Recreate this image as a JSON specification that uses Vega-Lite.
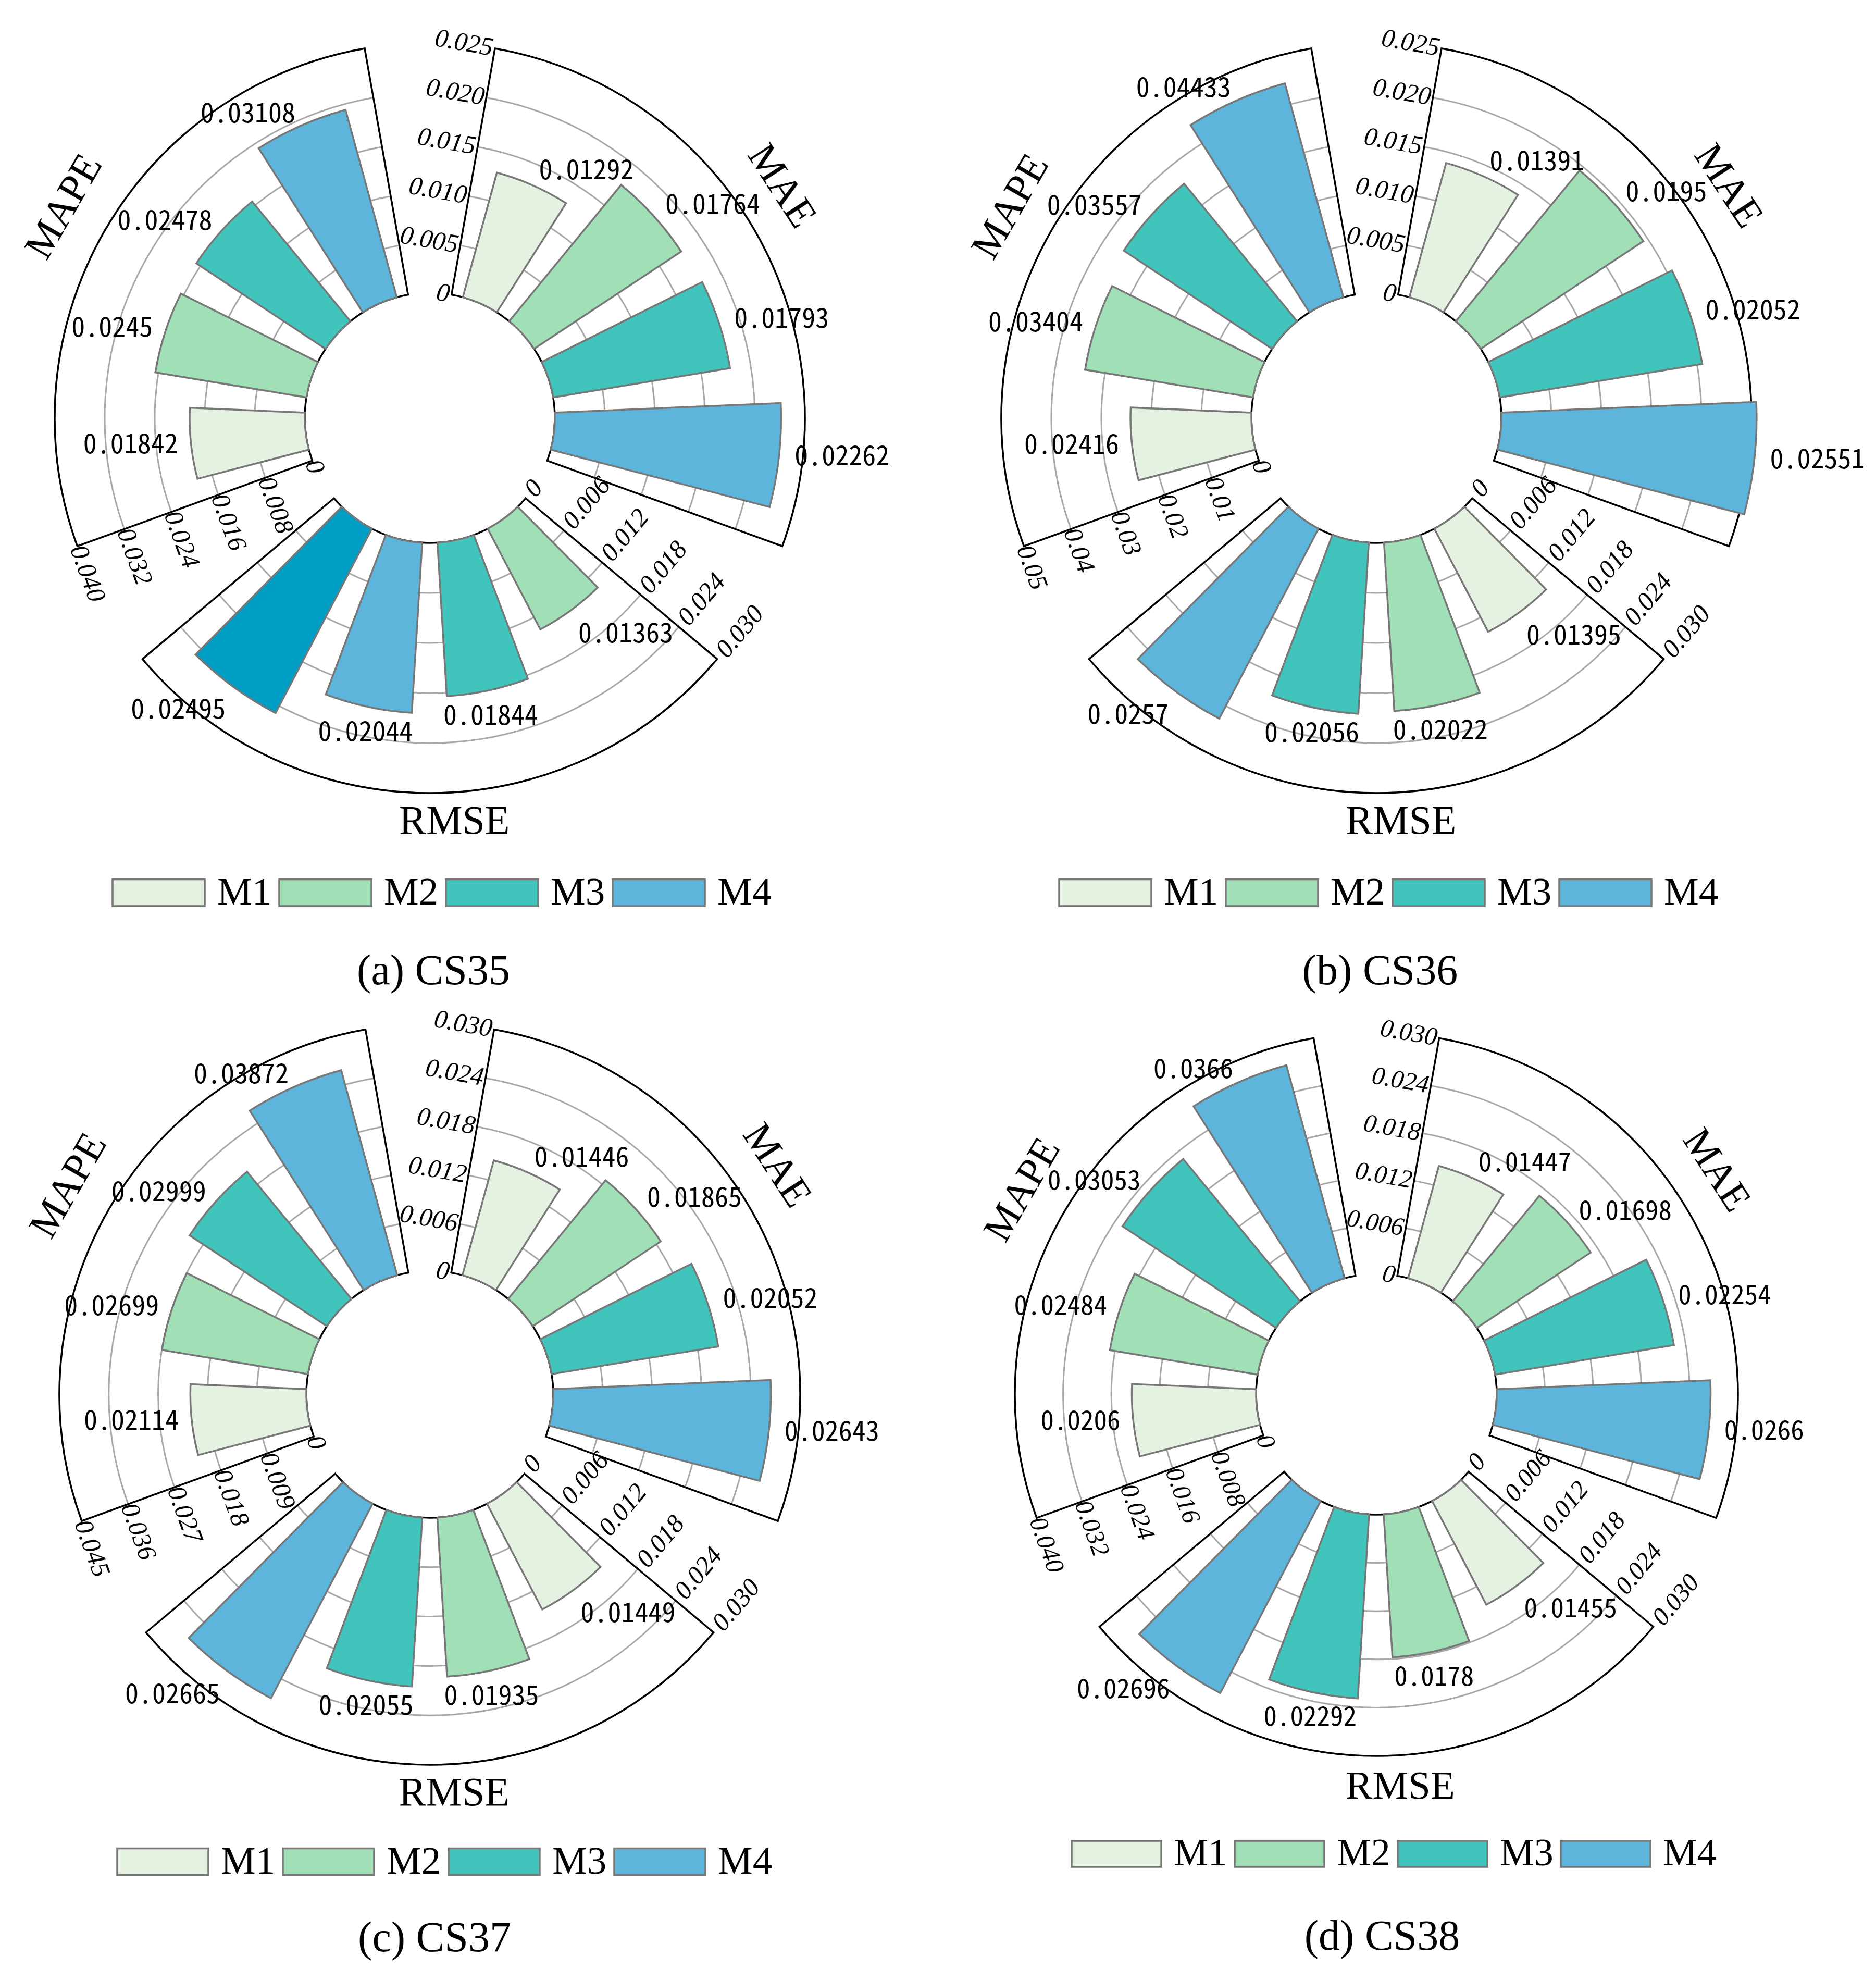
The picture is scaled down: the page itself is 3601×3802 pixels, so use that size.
{
  "$schema": "https://vega.github.io/schema/vega-lite/v6.json",
  "description": "Polar bar charts of MAE, RMSE and MAPE for four models on CS35-CS38.",
  "background": "white",
  "padding": {"left": 0, "top": 0, "right": 10, "bottom": 30},
  "autosize": {"type": "pad"},
  "bounds": "flush",
  "columns": 2,
  "spacing": {"row": 270, "column": 167},
  "config": {"view": {"stroke": null}, "font": "Liberation Serif"},
  "resolve": {"scale": {"color": "independent", "theta": "independent", "radius": "independent"}},
  "datasets": {
    "a": [
      {"metric": "MAE", "kind": "bar", "model": "M1", "value": 0.01292},
      {"metric": "MAE", "kind": "bar", "model": "M2", "value": 0.01764},
      {"metric": "MAE", "kind": "bar", "model": "M3", "value": 0.01793},
      {"metric": "MAE", "kind": "bar", "model": "M4", "value": 0.02262},
      {"metric": "RMSE", "kind": "bar", "model": "M2", "value": 0.01363},
      {"metric": "RMSE", "kind": "bar", "model": "M3", "value": 0.01844},
      {"metric": "RMSE", "kind": "bar", "model": "M4", "value": 0.02044},
      {"metric": "RMSE", "kind": "bar", "model": "M5", "value": 0.02495},
      {"metric": "MAPE", "kind": "bar", "model": "M1", "value": 0.01842},
      {"metric": "MAPE", "kind": "bar", "model": "M2", "value": 0.0245},
      {"metric": "MAPE", "kind": "bar", "model": "M3", "value": 0.02478},
      {"metric": "MAPE", "kind": "bar", "model": "M4", "value": 0.03108},
      {"metric": "MAE", "kind": "tick", "value": 0, "label": "0"},
      {"metric": "MAE", "kind": "tick", "value": 0.005, "label": "0.005"},
      {"metric": "MAE", "kind": "tick", "value": 0.01, "label": "0.010"},
      {"metric": "MAE", "kind": "tick", "value": 0.015, "label": "0.015"},
      {"metric": "MAE", "kind": "tick", "value": 0.02, "label": "0.020"},
      {"metric": "MAE", "kind": "tick", "value": 0.025, "label": "0.025"},
      {"metric": "RMSE", "kind": "tick", "value": 0, "label": "0"},
      {"metric": "RMSE", "kind": "tick", "value": 0.006, "label": "0.006"},
      {"metric": "RMSE", "kind": "tick", "value": 0.012, "label": "0.012"},
      {"metric": "RMSE", "kind": "tick", "value": 0.018, "label": "0.018"},
      {"metric": "RMSE", "kind": "tick", "value": 0.024, "label": "0.024"},
      {"metric": "RMSE", "kind": "tick", "value": 0.03, "label": "0.030"},
      {"metric": "MAPE", "kind": "tick", "value": 0, "label": "0"},
      {"metric": "MAPE", "kind": "tick", "value": 0.008, "label": "0.008"},
      {"metric": "MAPE", "kind": "tick", "value": 0.016, "label": "0.016"},
      {"metric": "MAPE", "kind": "tick", "value": 0.024, "label": "0.024"},
      {"metric": "MAPE", "kind": "tick", "value": 0.032, "label": "0.032"},
      {"metric": "MAPE", "kind": "tick", "value": 0.04, "label": "0.040"}
    ],
    "b": [
      {"metric": "MAE", "kind": "bar", "model": "M1", "value": 0.01391},
      {"metric": "MAE", "kind": "bar", "model": "M2", "value": 0.0195},
      {"metric": "MAE", "kind": "bar", "model": "M3", "value": 0.02052},
      {"metric": "MAE", "kind": "bar", "model": "M4", "value": 0.02551},
      {"metric": "RMSE", "kind": "bar", "model": "M1", "value": 0.01395},
      {"metric": "RMSE", "kind": "bar", "model": "M2", "value": 0.02022},
      {"metric": "RMSE", "kind": "bar", "model": "M3", "value": 0.02056},
      {"metric": "RMSE", "kind": "bar", "model": "M4", "value": 0.0257},
      {"metric": "MAPE", "kind": "bar", "model": "M1", "value": 0.02416},
      {"metric": "MAPE", "kind": "bar", "model": "M2", "value": 0.03404},
      {"metric": "MAPE", "kind": "bar", "model": "M3", "value": 0.03557},
      {"metric": "MAPE", "kind": "bar", "model": "M4", "value": 0.04433},
      {"metric": "MAE", "kind": "tick", "value": 0, "label": "0"},
      {"metric": "MAE", "kind": "tick", "value": 0.005, "label": "0.005"},
      {"metric": "MAE", "kind": "tick", "value": 0.01, "label": "0.010"},
      {"metric": "MAE", "kind": "tick", "value": 0.015, "label": "0.015"},
      {"metric": "MAE", "kind": "tick", "value": 0.02, "label": "0.020"},
      {"metric": "MAE", "kind": "tick", "value": 0.025, "label": "0.025"},
      {"metric": "RMSE", "kind": "tick", "value": 0, "label": "0"},
      {"metric": "RMSE", "kind": "tick", "value": 0.006, "label": "0.006"},
      {"metric": "RMSE", "kind": "tick", "value": 0.012, "label": "0.012"},
      {"metric": "RMSE", "kind": "tick", "value": 0.018, "label": "0.018"},
      {"metric": "RMSE", "kind": "tick", "value": 0.024, "label": "0.024"},
      {"metric": "RMSE", "kind": "tick", "value": 0.03, "label": "0.030"},
      {"metric": "MAPE", "kind": "tick", "value": 0, "label": "0"},
      {"metric": "MAPE", "kind": "tick", "value": 0.01, "label": "0.01"},
      {"metric": "MAPE", "kind": "tick", "value": 0.02, "label": "0.02"},
      {"metric": "MAPE", "kind": "tick", "value": 0.03, "label": "0.03"},
      {"metric": "MAPE", "kind": "tick", "value": 0.04, "label": "0.04"},
      {"metric": "MAPE", "kind": "tick", "value": 0.05, "label": "0.05"}
    ],
    "c": [
      {"metric": "MAE", "kind": "bar", "model": "M1", "value": 0.01446},
      {"metric": "MAE", "kind": "bar", "model": "M2", "value": 0.01865},
      {"metric": "MAE", "kind": "bar", "model": "M3", "value": 0.02052},
      {"metric": "MAE", "kind": "bar", "model": "M4", "value": 0.02643},
      {"metric": "RMSE", "kind": "bar", "model": "M1", "value": 0.01449},
      {"metric": "RMSE", "kind": "bar", "model": "M2", "value": 0.01935},
      {"metric": "RMSE", "kind": "bar", "model": "M3", "value": 0.02055},
      {"metric": "RMSE", "kind": "bar", "model": "M4", "value": 0.02665},
      {"metric": "MAPE", "kind": "bar", "model": "M1", "value": 0.02114},
      {"metric": "MAPE", "kind": "bar", "model": "M2", "value": 0.02699},
      {"metric": "MAPE", "kind": "bar", "model": "M3", "value": 0.02999},
      {"metric": "MAPE", "kind": "bar", "model": "M4", "value": 0.03872},
      {"metric": "MAE", "kind": "tick", "value": 0, "label": "0"},
      {"metric": "MAE", "kind": "tick", "value": 0.006, "label": "0.006"},
      {"metric": "MAE", "kind": "tick", "value": 0.012, "label": "0.012"},
      {"metric": "MAE", "kind": "tick", "value": 0.018, "label": "0.018"},
      {"metric": "MAE", "kind": "tick", "value": 0.024, "label": "0.024"},
      {"metric": "MAE", "kind": "tick", "value": 0.03, "label": "0.030"},
      {"metric": "RMSE", "kind": "tick", "value": 0, "label": "0"},
      {"metric": "RMSE", "kind": "tick", "value": 0.006, "label": "0.006"},
      {"metric": "RMSE", "kind": "tick", "value": 0.012, "label": "0.012"},
      {"metric": "RMSE", "kind": "tick", "value": 0.018, "label": "0.018"},
      {"metric": "RMSE", "kind": "tick", "value": 0.024, "label": "0.024"},
      {"metric": "RMSE", "kind": "tick", "value": 0.03, "label": "0.030"},
      {"metric": "MAPE", "kind": "tick", "value": 0, "label": "0"},
      {"metric": "MAPE", "kind": "tick", "value": 0.009, "label": "0.009"},
      {"metric": "MAPE", "kind": "tick", "value": 0.018, "label": "0.018"},
      {"metric": "MAPE", "kind": "tick", "value": 0.027, "label": "0.027"},
      {"metric": "MAPE", "kind": "tick", "value": 0.036, "label": "0.036"},
      {"metric": "MAPE", "kind": "tick", "value": 0.045, "label": "0.045"}
    ],
    "d": [
      {"metric": "MAE", "kind": "bar", "model": "M1", "value": 0.01447},
      {"metric": "MAE", "kind": "bar", "model": "M2", "value": 0.01698},
      {"metric": "MAE", "kind": "bar", "model": "M3", "value": 0.02254},
      {"metric": "MAE", "kind": "bar", "model": "M4", "value": 0.0266},
      {"metric": "RMSE", "kind": "bar", "model": "M1", "value": 0.01455},
      {"metric": "RMSE", "kind": "bar", "model": "M2", "value": 0.0178},
      {"metric": "RMSE", "kind": "bar", "model": "M3", "value": 0.02292},
      {"metric": "RMSE", "kind": "bar", "model": "M4", "value": 0.02696},
      {"metric": "MAPE", "kind": "bar", "model": "M1", "value": 0.0206},
      {"metric": "MAPE", "kind": "bar", "model": "M2", "value": 0.02484},
      {"metric": "MAPE", "kind": "bar", "model": "M3", "value": 0.03053},
      {"metric": "MAPE", "kind": "bar", "model": "M4", "value": 0.0366},
      {"metric": "MAE", "kind": "tick", "value": 0, "label": "0"},
      {"metric": "MAE", "kind": "tick", "value": 0.006, "label": "0.006"},
      {"metric": "MAE", "kind": "tick", "value": 0.012, "label": "0.012"},
      {"metric": "MAE", "kind": "tick", "value": 0.018, "label": "0.018"},
      {"metric": "MAE", "kind": "tick", "value": 0.024, "label": "0.024"},
      {"metric": "MAE", "kind": "tick", "value": 0.03, "label": "0.030"},
      {"metric": "RMSE", "kind": "tick", "value": 0, "label": "0"},
      {"metric": "RMSE", "kind": "tick", "value": 0.006, "label": "0.006"},
      {"metric": "RMSE", "kind": "tick", "value": 0.012, "label": "0.012"},
      {"metric": "RMSE", "kind": "tick", "value": 0.018, "label": "0.018"},
      {"metric": "RMSE", "kind": "tick", "value": 0.024, "label": "0.024"},
      {"metric": "RMSE", "kind": "tick", "value": 0.03, "label": "0.030"},
      {"metric": "MAPE", "kind": "tick", "value": 0, "label": "0"},
      {"metric": "MAPE", "kind": "tick", "value": 0.008, "label": "0.008"},
      {"metric": "MAPE", "kind": "tick", "value": 0.016, "label": "0.016"},
      {"metric": "MAPE", "kind": "tick", "value": 0.024, "label": "0.024"},
      {"metric": "MAPE", "kind": "tick", "value": 0.032, "label": "0.032"},
      {"metric": "MAPE", "kind": "tick", "value": 0.04, "label": "0.040"}
    ]
  },
  "concat": [
    {
      "width": 1650, "height": 1604,
      "data": {"name": "a"},
      "title": {"text": "(a) CS35", "orient": "bottom", "frame": "group", "anchor": "middle", "offset": 137, "dx": 7, "baseline": "alphabetic", "font": "Liberation Serif", "fontSize": 82, "fontWeight": "normal", "color": "black"},
      "resolve": {"scale": {"theta": "independent", "radius": "independent"}},
      "layer": [
        {
          "transform": [{"filter": "datum.metric == 'MAE'"}],
          "encoding": {"radius": {"field": "value", "type": "quantitative", "stack": null, "scale": {"type": "linear", "domain": [0, 0.025], "range": [240, 720], "nice": false, "zero": false}}},
          "resolve": {"scale": {"theta": "independent"}},
          "layer": [
            {"transform": [{"filter": "datum.kind == 'tick' && datum.value > 0"}], "mark": {"type": "arc", "filled": false, "stroke": "#a8a8a8", "strokeWidth": 3}, "encoding": {"theta": {"field": "metric", "type": "nominal", "scale": {"type": "band", "domain": ["MAE", "RMSE", "MAPE"], "range": [0, 6.283185], "paddingInner": 0.166667, "paddingOuter": 0.083333}}, "radius2": {"field": "value"}}},
            {"transform": [{"filter": "datum.kind == 'tick' && datum.value == 0.025"}], "mark": {"type": "arc", "filled": false, "stroke": "black", "strokeWidth": 3.5}, "encoding": {"theta": {"field": "metric", "type": "nominal", "scale": {"type": "band", "domain": ["MAE", "RMSE", "MAPE"], "range": [0, 6.283185], "paddingInner": 0.166667, "paddingOuter": 0.083333}}, "radius2": {"datum": 0}}},
            {"transform": [{"filter": "datum.kind == 'bar'"}], "mark": {"type": "arc", "stroke": "#777777", "strokeWidth": 3.5}, "encoding": {"theta": {"field": "model", "type": "nominal", "scale": {"type": "band", "domain": ["M1", "M2", "M3", "M4"], "range": [0.174533, 1.919862], "paddingInner": 0.29, "paddingOuter": 0.22}}, "color": {"field": "model", "type": "nominal", "scale": {"domain": ["M1", "M2", "M3", "M4", "M5"], "range": ["#e5f2e2", "#a1dfb6", "#40c4bc", "#5eb5dc", "#009dc4"]}, "legend": {"title": null, "orient": "none", "legendX": 214, "legendY": 1622.5, "direction": "horizontal", "columns": 4, "values": ["M1", "M2", "M3", "M4"], "symbolType": "M-1,-0.29H1V0.29H-1Z", "symbolSize": 31329, "symbolStrokeColor": "#777777", "symbolStrokeWidth": 3.5, "symbolOpacity": 1, "labelFont": "Liberation Serif", "labelFontSize": 75, "labelColor": "black", "labelOffset": 22, "columnPadding": 7, "padding": 0}}}},
            {"transform": [{"filter": "datum.kind == 'bar'"}], "mark": {"type": "text", "align": "left", "baseline": "middle", "radiusOffset": 30, "font": "Noto Sans Mono CJK SC, DejaVu Sans Mono", "fontSize": 52}, "encoding": {"theta": {"field": "model", "type": "nominal", "bandPosition": 0.5, "scale": {"type": "band", "domain": ["M1", "M2", "M3", "M4"], "range": [0.174533, 1.919862], "paddingInner": 0.29, "paddingOuter": 0.22}}, "text": {"field": "value", "type": "nominal"}}},
            {"transform": [{"filter": "datum.kind == 'tick'"}], "mark": {"type": "text", "align": "right", "baseline": "middle", "angle": 10, "dx": -4, "font": "Liberation Serif", "fontStyle": "italic", "fontSize": 50}, "encoding": {"theta": {"field": "metric", "type": "nominal", "bandPosition": 0, "scale": {"type": "band", "domain": ["MAE", "RMSE", "MAPE"], "range": [0, 6.283185], "paddingInner": 0.166667, "paddingOuter": 0.083333}}, "text": {"field": "label", "type": "nominal"}}},
            {"transform": [{"filter": "datum.kind == 'tick' && datum.value == 0.025"}], "mark": {"type": "text", "align": "center", "baseline": "middle", "angle": 57, "thetaOffset": -0.059, "radiusOffset": 88, "font": "Liberation Serif", "fontSize": 78}, "encoding": {"theta": {"field": "metric", "type": "nominal", "bandPosition": 0.5, "scale": {"type": "band", "domain": ["MAE", "RMSE", "MAPE"], "range": [0, 6.283185], "paddingInner": 0.166667, "paddingOuter": 0.083333}}, "text": {"field": "metric", "type": "nominal"}}}
          ]
        },
        {
          "transform": [{"filter": "datum.metric == 'RMSE'"}],
          "encoding": {"radius": {"field": "value", "type": "quantitative", "stack": null, "scale": {"type": "linear", "domain": [0, 0.03], "range": [240, 720], "nice": false, "zero": false}}},
          "resolve": {"scale": {"theta": "independent"}},
          "layer": [
            {"transform": [{"filter": "datum.kind == 'tick' && datum.value > 0"}], "mark": {"type": "arc", "filled": false, "stroke": "#a8a8a8", "strokeWidth": 3}, "encoding": {"theta": {"field": "metric", "type": "nominal", "scale": {"type": "band", "domain": ["MAE", "RMSE", "MAPE"], "range": [0, 6.283185], "paddingInner": 0.166667, "paddingOuter": 0.083333}}, "radius2": {"field": "value"}}},
            {"transform": [{"filter": "datum.kind == 'tick' && datum.value == 0.03"}], "mark": {"type": "arc", "filled": false, "stroke": "black", "strokeWidth": 3.5}, "encoding": {"theta": {"field": "metric", "type": "nominal", "scale": {"type": "band", "domain": ["MAE", "RMSE", "MAPE"], "range": [0, 6.283185], "paddingInner": 0.166667, "paddingOuter": 0.083333}}, "radius2": {"datum": 0}}},
            {"transform": [{"filter": "datum.kind == 'bar'"}], "mark": {"type": "arc", "stroke": "#777777", "strokeWidth": 3.5}, "encoding": {"theta": {"field": "model", "type": "nominal", "scale": {"type": "band", "domain": ["M2", "M3", "M4", "M5"], "range": [2.268928, 4.014257], "paddingInner": 0.29, "paddingOuter": 0.22}}, "color": {"field": "model", "type": "nominal", "scale": {"domain": ["M1", "M2", "M3", "M4", "M5"], "range": ["#e5f2e2", "#a1dfb6", "#40c4bc", "#5eb5dc", "#009dc4"]}}}},
            {"transform": [{"filter": "datum.kind == 'bar' && datum.model == 'M2'"}], "mark": {"type": "text", "align": "left", "baseline": "top", "radiusOffset": 25, "font": "Noto Sans Mono CJK SC, DejaVu Sans Mono", "fontSize": 52}, "encoding": {"theta": {"field": "model", "type": "nominal", "bandPosition": 0.5, "scale": {"type": "band", "domain": ["M2", "M3", "M4", "M5"], "range": [2.268928, 4.014257], "paddingInner": 0.29, "paddingOuter": 0.22}}, "text": {"field": "value", "type": "nominal"}}},
            {"transform": [{"filter": "datum.kind == 'bar' && (datum.model == 'M3' || datum.model == 'M4')"}], "mark": {"type": "text", "align": "center", "baseline": "top", "radiusOffset": 25, "font": "Noto Sans Mono CJK SC, DejaVu Sans Mono", "fontSize": 52}, "encoding": {"theta": {"field": "model", "type": "nominal", "bandPosition": 0.5, "scale": {"type": "band", "domain": ["M2", "M3", "M4", "M5"], "range": [2.268928, 4.014257], "paddingInner": 0.29, "paddingOuter": 0.22}}, "text": {"field": "value", "type": "nominal"}}},
            {"transform": [{"filter": "datum.kind == 'bar' && datum.model == 'M5'"}], "mark": {"type": "text", "align": "right", "baseline": "top", "radiusOffset": 25, "font": "Noto Sans Mono CJK SC, DejaVu Sans Mono", "fontSize": 52}, "encoding": {"theta": {"field": "model", "type": "nominal", "bandPosition": 0.5, "scale": {"type": "band", "domain": ["M2", "M3", "M4", "M5"], "range": [2.268928, 4.014257], "paddingInner": 0.29, "paddingOuter": 0.22}}, "text": {"field": "value", "type": "nominal"}}},
            {"transform": [{"filter": "datum.kind == 'tick'"}], "mark": {"type": "text", "align": "left", "baseline": "middle", "angle": -50, "dx": 12, "font": "Liberation Serif", "fontStyle": "italic", "fontSize": 50}, "encoding": {"theta": {"field": "metric", "type": "nominal", "bandPosition": 0, "scale": {"type": "band", "domain": ["MAE", "RMSE", "MAPE"], "range": [0, 6.283185], "paddingInner": 0.166667, "paddingOuter": 0.083333}}, "text": {"field": "label", "type": "nominal"}}},
            {"transform": [{"filter": "datum.kind == 'tick' && datum.value == 0.03"}], "mark": {"type": "text", "align": "center", "baseline": "middle", "angle": 0, "thetaOffset": -0.061, "radiusOffset": 56, "font": "Liberation Serif", "fontSize": 78}, "encoding": {"theta": {"field": "metric", "type": "nominal", "bandPosition": 0.5, "scale": {"type": "band", "domain": ["MAE", "RMSE", "MAPE"], "range": [0, 6.283185], "paddingInner": 0.166667, "paddingOuter": 0.083333}}, "text": {"field": "metric", "type": "nominal"}}}
          ]
        },
        {
          "transform": [{"filter": "datum.metric == 'MAPE'"}],
          "encoding": {"radius": {"field": "value", "type": "quantitative", "stack": null, "scale": {"type": "linear", "domain": [0, 0.04], "range": [240, 720], "nice": false, "zero": false}}},
          "resolve": {"scale": {"theta": "independent"}},
          "layer": [
            {"transform": [{"filter": "datum.kind == 'tick' && datum.value > 0"}], "mark": {"type": "arc", "filled": false, "stroke": "#a8a8a8", "strokeWidth": 3}, "encoding": {"theta": {"field": "metric", "type": "nominal", "scale": {"type": "band", "domain": ["MAE", "RMSE", "MAPE"], "range": [0, 6.283185], "paddingInner": 0.166667, "paddingOuter": 0.083333}}, "radius2": {"field": "value"}}},
            {"transform": [{"filter": "datum.kind == 'tick' && datum.value == 0.04"}], "mark": {"type": "arc", "filled": false, "stroke": "black", "strokeWidth": 3.5}, "encoding": {"theta": {"field": "metric", "type": "nominal", "scale": {"type": "band", "domain": ["MAE", "RMSE", "MAPE"], "range": [0, 6.283185], "paddingInner": 0.166667, "paddingOuter": 0.083333}}, "radius2": {"datum": 0}}},
            {"transform": [{"filter": "datum.kind == 'bar'"}], "mark": {"type": "arc", "stroke": "#777777", "strokeWidth": 3.5}, "encoding": {"theta": {"field": "model", "type": "nominal", "scale": {"type": "band", "domain": ["M1", "M2", "M3", "M4"], "range": [4.363323, 6.108652], "paddingInner": 0.29, "paddingOuter": 0.22}}, "color": {"field": "model", "type": "nominal", "scale": {"domain": ["M1", "M2", "M3", "M4", "M5"], "range": ["#e5f2e2", "#a1dfb6", "#40c4bc", "#5eb5dc", "#009dc4"]}}}},
            {"transform": [{"filter": "datum.kind == 'bar'"}], "mark": {"type": "text", "align": "right", "baseline": "middle", "radiusOffset": 25, "font": "Noto Sans Mono CJK SC, DejaVu Sans Mono", "fontSize": 52}, "encoding": {"theta": {"field": "model", "type": "nominal", "bandPosition": 0.5, "scale": {"type": "band", "domain": ["M1", "M2", "M3", "M4"], "range": [4.363323, 6.108652], "paddingInner": 0.29, "paddingOuter": 0.22}}, "text": {"field": "value", "type": "nominal"}}},
            {"transform": [{"filter": "datum.kind == 'tick'"}], "mark": {"type": "text", "align": "left", "baseline": "middle", "angle": 70, "dx": 0, "font": "Liberation Serif", "fontStyle": "italic", "fontSize": 50}, "encoding": {"theta": {"field": "metric", "type": "nominal", "bandPosition": 0, "scale": {"type": "band", "domain": ["MAE", "RMSE", "MAPE"], "range": [0, 6.283185], "paddingInner": 0.166667, "paddingOuter": 0.083333}}, "text": {"field": "label", "type": "nominal"}}},
            {"transform": [{"filter": "datum.kind == 'tick' && datum.value == 0.04"}], "mark": {"type": "text", "align": "center", "baseline": "middle", "angle": -60, "radiusOffset": 90, "font": "Liberation Serif", "fontSize": 78}, "encoding": {"theta": {"field": "metric", "type": "nominal", "bandPosition": 0.5, "scale": {"type": "band", "domain": ["MAE", "RMSE", "MAPE"], "range": [0, 6.283185], "paddingInner": 0.166667, "paddingOuter": 0.083333}}, "text": {"field": "metric", "type": "nominal"}}}
          ]
        }
      ]
    },
    {
      "width": 1650, "height": 1604,
      "data": {"name": "b"},
      "title": {"text": "(b) CS36", "orient": "bottom", "frame": "group", "anchor": "middle", "offset": 137, "dx": 7, "baseline": "alphabetic", "font": "Liberation Serif", "fontSize": 82, "fontWeight": "normal", "color": "black"},
      "resolve": {"scale": {"theta": "independent", "radius": "independent"}},
      "layer": [
        {
          "transform": [{"filter": "datum.metric == 'MAE'"}],
          "encoding": {"radius": {"field": "value", "type": "quantitative", "stack": null, "scale": {"type": "linear", "domain": [0, 0.025], "range": [240, 720], "nice": false, "zero": false}}},
          "resolve": {"scale": {"theta": "independent"}},
          "layer": [
            {"transform": [{"filter": "datum.kind == 'tick' && datum.value > 0"}], "mark": {"type": "arc", "filled": false, "stroke": "#a8a8a8", "strokeWidth": 3}, "encoding": {"theta": {"field": "metric", "type": "nominal", "scale": {"type": "band", "domain": ["MAE", "RMSE", "MAPE"], "range": [0, 6.283185], "paddingInner": 0.166667, "paddingOuter": 0.083333}}, "radius2": {"field": "value"}}},
            {"transform": [{"filter": "datum.kind == 'tick' && datum.value == 0.025"}], "mark": {"type": "arc", "filled": false, "stroke": "black", "strokeWidth": 3.5}, "encoding": {"theta": {"field": "metric", "type": "nominal", "scale": {"type": "band", "domain": ["MAE", "RMSE", "MAPE"], "range": [0, 6.283185], "paddingInner": 0.166667, "paddingOuter": 0.083333}}, "radius2": {"datum": 0}}},
            {"transform": [{"filter": "datum.kind == 'bar'"}], "mark": {"type": "arc", "stroke": "#777777", "strokeWidth": 3.5}, "encoding": {"theta": {"field": "model", "type": "nominal", "scale": {"type": "band", "domain": ["M1", "M2", "M3", "M4"], "range": [0.174533, 1.919862], "paddingInner": 0.29, "paddingOuter": 0.22}}, "color": {"field": "model", "type": "nominal", "scale": {"domain": ["M1", "M2", "M3", "M4"], "range": ["#e5f2e2", "#a1dfb6", "#40c4bc", "#5eb5dc"]}, "legend": {"title": null, "orient": "none", "legendX": 214, "legendY": 1622.5, "direction": "horizontal", "columns": 4, "symbolType": "M-1,-0.29H1V0.29H-1Z", "symbolSize": 31329, "symbolStrokeColor": "#777777", "symbolStrokeWidth": 3.5, "symbolOpacity": 1, "labelFont": "Liberation Serif", "labelFontSize": 75, "labelColor": "black", "labelOffset": 22, "columnPadding": 7, "padding": 0}}}},
            {"transform": [{"filter": "datum.kind == 'bar'"}], "mark": {"type": "text", "align": "left", "baseline": "middle", "radiusOffset": 30, "font": "Noto Sans Mono CJK SC, DejaVu Sans Mono", "fontSize": 52}, "encoding": {"theta": {"field": "model", "type": "nominal", "bandPosition": 0.5, "scale": {"type": "band", "domain": ["M1", "M2", "M3", "M4"], "range": [0.174533, 1.919862], "paddingInner": 0.29, "paddingOuter": 0.22}}, "text": {"field": "value", "type": "nominal"}}},
            {"transform": [{"filter": "datum.kind == 'tick'"}], "mark": {"type": "text", "align": "right", "baseline": "middle", "angle": 10, "dx": -4, "font": "Liberation Serif", "fontStyle": "italic", "fontSize": 50}, "encoding": {"theta": {"field": "metric", "type": "nominal", "bandPosition": 0, "scale": {"type": "band", "domain": ["MAE", "RMSE", "MAPE"], "range": [0, 6.283185], "paddingInner": 0.166667, "paddingOuter": 0.083333}}, "text": {"field": "label", "type": "nominal"}}},
            {"transform": [{"filter": "datum.kind == 'tick' && datum.value == 0.025"}], "mark": {"type": "text", "align": "center", "baseline": "middle", "angle": 57, "thetaOffset": -0.059, "radiusOffset": 88, "font": "Liberation Serif", "fontSize": 78}, "encoding": {"theta": {"field": "metric", "type": "nominal", "bandPosition": 0.5, "scale": {"type": "band", "domain": ["MAE", "RMSE", "MAPE"], "range": [0, 6.283185], "paddingInner": 0.166667, "paddingOuter": 0.083333}}, "text": {"field": "metric", "type": "nominal"}}}
          ]
        },
        {
          "transform": [{"filter": "datum.metric == 'RMSE'"}],
          "encoding": {"radius": {"field": "value", "type": "quantitative", "stack": null, "scale": {"type": "linear", "domain": [0, 0.03], "range": [240, 720], "nice": false, "zero": false}}},
          "resolve": {"scale": {"theta": "independent"}},
          "layer": [
            {"transform": [{"filter": "datum.kind == 'tick' && datum.value > 0"}], "mark": {"type": "arc", "filled": false, "stroke": "#a8a8a8", "strokeWidth": 3}, "encoding": {"theta": {"field": "metric", "type": "nominal", "scale": {"type": "band", "domain": ["MAE", "RMSE", "MAPE"], "range": [0, 6.283185], "paddingInner": 0.166667, "paddingOuter": 0.083333}}, "radius2": {"field": "value"}}},
            {"transform": [{"filter": "datum.kind == 'tick' && datum.value == 0.03"}], "mark": {"type": "arc", "filled": false, "stroke": "black", "strokeWidth": 3.5}, "encoding": {"theta": {"field": "metric", "type": "nominal", "scale": {"type": "band", "domain": ["MAE", "RMSE", "MAPE"], "range": [0, 6.283185], "paddingInner": 0.166667, "paddingOuter": 0.083333}}, "radius2": {"datum": 0}}},
            {"transform": [{"filter": "datum.kind == 'bar'"}], "mark": {"type": "arc", "stroke": "#777777", "strokeWidth": 3.5}, "encoding": {"theta": {"field": "model", "type": "nominal", "scale": {"type": "band", "domain": ["M1", "M2", "M3", "M4"], "range": [2.268928, 4.014257], "paddingInner": 0.29, "paddingOuter": 0.22}}, "color": {"field": "model", "type": "nominal", "scale": {"domain": ["M1", "M2", "M3", "M4"], "range": ["#e5f2e2", "#a1dfb6", "#40c4bc", "#5eb5dc"]}}}},
            {"transform": [{"filter": "datum.kind == 'bar' && datum.model == 'M1'"}], "mark": {"type": "text", "align": "left", "baseline": "top", "radiusOffset": 25, "font": "Noto Sans Mono CJK SC, DejaVu Sans Mono", "fontSize": 52}, "encoding": {"theta": {"field": "model", "type": "nominal", "bandPosition": 0.5, "scale": {"type": "band", "domain": ["M1", "M2", "M3", "M4"], "range": [2.268928, 4.014257], "paddingInner": 0.29, "paddingOuter": 0.22}}, "text": {"field": "value", "type": "nominal"}}},
            {"transform": [{"filter": "datum.kind == 'bar' && (datum.model == 'M2' || datum.model == 'M3')"}], "mark": {"type": "text", "align": "center", "baseline": "top", "radiusOffset": 25, "font": "Noto Sans Mono CJK SC, DejaVu Sans Mono", "fontSize": 52}, "encoding": {"theta": {"field": "model", "type": "nominal", "bandPosition": 0.5, "scale": {"type": "band", "domain": ["M1", "M2", "M3", "M4"], "range": [2.268928, 4.014257], "paddingInner": 0.29, "paddingOuter": 0.22}}, "text": {"field": "value", "type": "nominal"}}},
            {"transform": [{"filter": "datum.kind == 'bar' && datum.model == 'M4'"}], "mark": {"type": "text", "align": "right", "baseline": "top", "radiusOffset": 25, "font": "Noto Sans Mono CJK SC, DejaVu Sans Mono", "fontSize": 52}, "encoding": {"theta": {"field": "model", "type": "nominal", "bandPosition": 0.5, "scale": {"type": "band", "domain": ["M1", "M2", "M3", "M4"], "range": [2.268928, 4.014257], "paddingInner": 0.29, "paddingOuter": 0.22}}, "text": {"field": "value", "type": "nominal"}}},
            {"transform": [{"filter": "datum.kind == 'tick'"}], "mark": {"type": "text", "align": "left", "baseline": "middle", "angle": -50, "dx": 12, "font": "Liberation Serif", "fontStyle": "italic", "fontSize": 50}, "encoding": {"theta": {"field": "metric", "type": "nominal", "bandPosition": 0, "scale": {"type": "band", "domain": ["MAE", "RMSE", "MAPE"], "range": [0, 6.283185], "paddingInner": 0.166667, "paddingOuter": 0.083333}}, "text": {"field": "label", "type": "nominal"}}},
            {"transform": [{"filter": "datum.kind == 'tick' && datum.value == 0.03"}], "mark": {"type": "text", "align": "center", "baseline": "middle", "angle": 0, "thetaOffset": -0.061, "radiusOffset": 56, "font": "Liberation Serif", "fontSize": 78}, "encoding": {"theta": {"field": "metric", "type": "nominal", "bandPosition": 0.5, "scale": {"type": "band", "domain": ["MAE", "RMSE", "MAPE"], "range": [0, 6.283185], "paddingInner": 0.166667, "paddingOuter": 0.083333}}, "text": {"field": "metric", "type": "nominal"}}}
          ]
        },
        {
          "transform": [{"filter": "datum.metric == 'MAPE'"}],
          "encoding": {"radius": {"field": "value", "type": "quantitative", "stack": null, "scale": {"type": "linear", "domain": [0, 0.05], "range": [240, 720], "nice": false, "zero": false}}},
          "resolve": {"scale": {"theta": "independent"}},
          "layer": [
            {"transform": [{"filter": "datum.kind == 'tick' && datum.value > 0"}], "mark": {"type": "arc", "filled": false, "stroke": "#a8a8a8", "strokeWidth": 3}, "encoding": {"theta": {"field": "metric", "type": "nominal", "scale": {"type": "band", "domain": ["MAE", "RMSE", "MAPE"], "range": [0, 6.283185], "paddingInner": 0.166667, "paddingOuter": 0.083333}}, "radius2": {"field": "value"}}},
            {"transform": [{"filter": "datum.kind == 'tick' && datum.value == 0.05"}], "mark": {"type": "arc", "filled": false, "stroke": "black", "strokeWidth": 3.5}, "encoding": {"theta": {"field": "metric", "type": "nominal", "scale": {"type": "band", "domain": ["MAE", "RMSE", "MAPE"], "range": [0, 6.283185], "paddingInner": 0.166667, "paddingOuter": 0.083333}}, "radius2": {"datum": 0}}},
            {"transform": [{"filter": "datum.kind == 'bar'"}], "mark": {"type": "arc", "stroke": "#777777", "strokeWidth": 3.5}, "encoding": {"theta": {"field": "model", "type": "nominal", "scale": {"type": "band", "domain": ["M1", "M2", "M3", "M4"], "range": [4.363323, 6.108652], "paddingInner": 0.29, "paddingOuter": 0.22}}, "color": {"field": "model", "type": "nominal", "scale": {"domain": ["M1", "M2", "M3", "M4"], "range": ["#e5f2e2", "#a1dfb6", "#40c4bc", "#5eb5dc"]}}}},
            {"transform": [{"filter": "datum.kind == 'bar'"}], "mark": {"type": "text", "align": "right", "baseline": "middle", "radiusOffset": 25, "font": "Noto Sans Mono CJK SC, DejaVu Sans Mono", "fontSize": 52}, "encoding": {"theta": {"field": "model", "type": "nominal", "bandPosition": 0.5, "scale": {"type": "band", "domain": ["M1", "M2", "M3", "M4"], "range": [4.363323, 6.108652], "paddingInner": 0.29, "paddingOuter": 0.22}}, "text": {"field": "value", "type": "nominal"}}},
            {"transform": [{"filter": "datum.kind == 'tick'"}], "mark": {"type": "text", "align": "left", "baseline": "middle", "angle": 70, "dx": 0, "font": "Liberation Serif", "fontStyle": "italic", "fontSize": 50}, "encoding": {"theta": {"field": "metric", "type": "nominal", "bandPosition": 0, "scale": {"type": "band", "domain": ["MAE", "RMSE", "MAPE"], "range": [0, 6.283185], "paddingInner": 0.166667, "paddingOuter": 0.083333}}, "text": {"field": "label", "type": "nominal"}}},
            {"transform": [{"filter": "datum.kind == 'tick' && datum.value == 0.05"}], "mark": {"type": "text", "align": "center", "baseline": "middle", "angle": -60, "radiusOffset": 90, "font": "Liberation Serif", "fontSize": 78}, "encoding": {"theta": {"field": "metric", "type": "nominal", "bandPosition": 0.5, "scale": {"type": "band", "domain": ["MAE", "RMSE", "MAPE"], "range": [0, 6.283185], "paddingInner": 0.166667, "paddingOuter": 0.083333}}, "text": {"field": "metric", "type": "nominal"}}}
          ]
        }
      ]
    },
    {
      "width": 1650, "height": 1604,
      "data": {"name": "c"},
      "title": {"text": "(c) CS37", "orient": "bottom", "frame": "group", "anchor": "middle", "offset": 134, "dx": 9, "baseline": "alphabetic", "font": "Liberation Serif", "fontSize": 82, "fontWeight": "normal", "color": "black"},
      "resolve": {"scale": {"theta": "independent", "radius": "independent"}},
      "layer": [
        {
          "transform": [{"filter": "datum.metric == 'MAE'"}],
          "encoding": {"radius": {"field": "value", "type": "quantitative", "stack": null, "scale": {"type": "linear", "domain": [0, 0.03], "range": [237, 711], "nice": false, "zero": false}}},
          "resolve": {"scale": {"theta": "independent"}},
          "layer": [
            {"transform": [{"filter": "datum.kind == 'tick' && datum.value > 0"}], "mark": {"type": "arc", "filled": false, "stroke": "#a8a8a8", "strokeWidth": 3}, "encoding": {"theta": {"field": "metric", "type": "nominal", "scale": {"type": "band", "domain": ["MAE", "RMSE", "MAPE"], "range": [0, 6.283185], "paddingInner": 0.166667, "paddingOuter": 0.083333}}, "radius2": {"field": "value"}}},
            {"transform": [{"filter": "datum.kind == 'tick' && datum.value == 0.03"}], "mark": {"type": "arc", "filled": false, "stroke": "black", "strokeWidth": 3.5}, "encoding": {"theta": {"field": "metric", "type": "nominal", "scale": {"type": "band", "domain": ["MAE", "RMSE", "MAPE"], "range": [0, 6.283185], "paddingInner": 0.166667, "paddingOuter": 0.083333}}, "radius2": {"datum": 0}}},
            {"transform": [{"filter": "datum.kind == 'bar'"}], "mark": {"type": "arc", "stroke": "#777777", "strokeWidth": 3.5}, "encoding": {"theta": {"field": "model", "type": "nominal", "scale": {"type": "band", "domain": ["M1", "M2", "M3", "M4"], "range": [0.174533, 1.919862], "paddingInner": 0.29, "paddingOuter": 0.22}}, "color": {"field": "model", "type": "nominal", "scale": {"domain": ["M1", "M2", "M3", "M4"], "range": ["#e5f2e2", "#a1dfb6", "#40c4bc", "#5eb5dc"]}, "legend": {"title": null, "orient": "none", "legendX": 223, "legendY": 1609, "direction": "horizontal", "columns": 4, "symbolType": "M-1,-0.29H1V0.29H-1Z", "symbolSize": 30625, "symbolStrokeColor": "#777777", "symbolStrokeWidth": 3.5, "symbolOpacity": 1, "labelFont": "Liberation Serif", "labelFontSize": 75, "labelColor": "black", "labelOffset": 22, "columnPadding": 7, "padding": 0}}}},
            {"transform": [{"filter": "datum.kind == 'bar'"}], "mark": {"type": "text", "align": "left", "baseline": "middle", "radiusOffset": 30, "font": "Noto Sans Mono CJK SC, DejaVu Sans Mono", "fontSize": 52}, "encoding": {"theta": {"field": "model", "type": "nominal", "bandPosition": 0.5, "scale": {"type": "band", "domain": ["M1", "M2", "M3", "M4"], "range": [0.174533, 1.919862], "paddingInner": 0.29, "paddingOuter": 0.22}}, "text": {"field": "value", "type": "nominal"}}},
            {"transform": [{"filter": "datum.kind == 'tick'"}], "mark": {"type": "text", "align": "right", "baseline": "middle", "angle": 10, "dx": -4, "font": "Liberation Serif", "fontStyle": "italic", "fontSize": 50}, "encoding": {"theta": {"field": "metric", "type": "nominal", "bandPosition": 0, "scale": {"type": "band", "domain": ["MAE", "RMSE", "MAPE"], "range": [0, 6.283185], "paddingInner": 0.166667, "paddingOuter": 0.083333}}, "text": {"field": "label", "type": "nominal"}}},
            {"transform": [{"filter": "datum.kind == 'tick' && datum.value == 0.03"}], "mark": {"type": "text", "align": "center", "baseline": "middle", "angle": 57, "thetaOffset": -0.059, "radiusOffset": 86, "font": "Liberation Serif", "fontSize": 78}, "encoding": {"theta": {"field": "metric", "type": "nominal", "bandPosition": 0.5, "scale": {"type": "band", "domain": ["MAE", "RMSE", "MAPE"], "range": [0, 6.283185], "paddingInner": 0.166667, "paddingOuter": 0.083333}}, "text": {"field": "metric", "type": "nominal"}}}
          ]
        },
        {
          "transform": [{"filter": "datum.metric == 'RMSE'"}],
          "encoding": {"radius": {"field": "value", "type": "quantitative", "stack": null, "scale": {"type": "linear", "domain": [0, 0.03], "range": [237, 711], "nice": false, "zero": false}}},
          "resolve": {"scale": {"theta": "independent"}},
          "layer": [
            {"transform": [{"filter": "datum.kind == 'tick' && datum.value > 0"}], "mark": {"type": "arc", "filled": false, "stroke": "#a8a8a8", "strokeWidth": 3}, "encoding": {"theta": {"field": "metric", "type": "nominal", "scale": {"type": "band", "domain": ["MAE", "RMSE", "MAPE"], "range": [0, 6.283185], "paddingInner": 0.166667, "paddingOuter": 0.083333}}, "radius2": {"field": "value"}}},
            {"transform": [{"filter": "datum.kind == 'tick' && datum.value == 0.03"}], "mark": {"type": "arc", "filled": false, "stroke": "black", "strokeWidth": 3.5}, "encoding": {"theta": {"field": "metric", "type": "nominal", "scale": {"type": "band", "domain": ["MAE", "RMSE", "MAPE"], "range": [0, 6.283185], "paddingInner": 0.166667, "paddingOuter": 0.083333}}, "radius2": {"datum": 0}}},
            {"transform": [{"filter": "datum.kind == 'bar'"}], "mark": {"type": "arc", "stroke": "#777777", "strokeWidth": 3.5}, "encoding": {"theta": {"field": "model", "type": "nominal", "scale": {"type": "band", "domain": ["M1", "M2", "M3", "M4"], "range": [2.268928, 4.014257], "paddingInner": 0.29, "paddingOuter": 0.22}}, "color": {"field": "model", "type": "nominal", "scale": {"domain": ["M1", "M2", "M3", "M4"], "range": ["#e5f2e2", "#a1dfb6", "#40c4bc", "#5eb5dc"]}}}},
            {"transform": [{"filter": "datum.kind == 'bar' && datum.model == 'M1'"}], "mark": {"type": "text", "align": "left", "baseline": "top", "radiusOffset": 25, "font": "Noto Sans Mono CJK SC, DejaVu Sans Mono", "fontSize": 52}, "encoding": {"theta": {"field": "model", "type": "nominal", "bandPosition": 0.5, "scale": {"type": "band", "domain": ["M1", "M2", "M3", "M4"], "range": [2.268928, 4.014257], "paddingInner": 0.29, "paddingOuter": 0.22}}, "text": {"field": "value", "type": "nominal"}}},
            {"transform": [{"filter": "datum.kind == 'bar' && (datum.model == 'M2' || datum.model == 'M3')"}], "mark": {"type": "text", "align": "center", "baseline": "top", "radiusOffset": 25, "font": "Noto Sans Mono CJK SC, DejaVu Sans Mono", "fontSize": 52}, "encoding": {"theta": {"field": "model", "type": "nominal", "bandPosition": 0.5, "scale": {"type": "band", "domain": ["M1", "M2", "M3", "M4"], "range": [2.268928, 4.014257], "paddingInner": 0.29, "paddingOuter": 0.22}}, "text": {"field": "value", "type": "nominal"}}},
            {"transform": [{"filter": "datum.kind == 'bar' && datum.model == 'M4'"}], "mark": {"type": "text", "align": "right", "baseline": "top", "radiusOffset": 25, "font": "Noto Sans Mono CJK SC, DejaVu Sans Mono", "fontSize": 52}, "encoding": {"theta": {"field": "model", "type": "nominal", "bandPosition": 0.5, "scale": {"type": "band", "domain": ["M1", "M2", "M3", "M4"], "range": [2.268928, 4.014257], "paddingInner": 0.29, "paddingOuter": 0.22}}, "text": {"field": "value", "type": "nominal"}}},
            {"transform": [{"filter": "datum.kind == 'tick'"}], "mark": {"type": "text", "align": "left", "baseline": "middle", "angle": -50, "dx": 12, "font": "Liberation Serif", "fontStyle": "italic", "fontSize": 50}, "encoding": {"theta": {"field": "metric", "type": "nominal", "bandPosition": 0, "scale": {"type": "band", "domain": ["MAE", "RMSE", "MAPE"], "range": [0, 6.283185], "paddingInner": 0.166667, "paddingOuter": 0.083333}}, "text": {"field": "label", "type": "nominal"}}},
            {"transform": [{"filter": "datum.kind == 'tick' && datum.value == 0.03"}], "mark": {"type": "text", "align": "center", "baseline": "middle", "angle": 0, "thetaOffset": -0.061, "radiusOffset": 56, "font": "Liberation Serif", "fontSize": 78}, "encoding": {"theta": {"field": "metric", "type": "nominal", "bandPosition": 0.5, "scale": {"type": "band", "domain": ["MAE", "RMSE", "MAPE"], "range": [0, 6.283185], "paddingInner": 0.166667, "paddingOuter": 0.083333}}, "text": {"field": "metric", "type": "nominal"}}}
          ]
        },
        {
          "transform": [{"filter": "datum.metric == 'MAPE'"}],
          "encoding": {"radius": {"field": "value", "type": "quantitative", "stack": null, "scale": {"type": "linear", "domain": [0, 0.045], "range": [237, 711], "nice": false, "zero": false}}},
          "resolve": {"scale": {"theta": "independent"}},
          "layer": [
            {"transform": [{"filter": "datum.kind == 'tick' && datum.value > 0"}], "mark": {"type": "arc", "filled": false, "stroke": "#a8a8a8", "strokeWidth": 3}, "encoding": {"theta": {"field": "metric", "type": "nominal", "scale": {"type": "band", "domain": ["MAE", "RMSE", "MAPE"], "range": [0, 6.283185], "paddingInner": 0.166667, "paddingOuter": 0.083333}}, "radius2": {"field": "value"}}},
            {"transform": [{"filter": "datum.kind == 'tick' && datum.value == 0.045"}], "mark": {"type": "arc", "filled": false, "stroke": "black", "strokeWidth": 3.5}, "encoding": {"theta": {"field": "metric", "type": "nominal", "scale": {"type": "band", "domain": ["MAE", "RMSE", "MAPE"], "range": [0, 6.283185], "paddingInner": 0.166667, "paddingOuter": 0.083333}}, "radius2": {"datum": 0}}},
            {"transform": [{"filter": "datum.kind == 'bar'"}], "mark": {"type": "arc", "stroke": "#777777", "strokeWidth": 3.5}, "encoding": {"theta": {"field": "model", "type": "nominal", "scale": {"type": "band", "domain": ["M1", "M2", "M3", "M4"], "range": [4.363323, 6.108652], "paddingInner": 0.29, "paddingOuter": 0.22}}, "color": {"field": "model", "type": "nominal", "scale": {"domain": ["M1", "M2", "M3", "M4"], "range": ["#e5f2e2", "#a1dfb6", "#40c4bc", "#5eb5dc"]}}}},
            {"transform": [{"filter": "datum.kind == 'bar'"}], "mark": {"type": "text", "align": "right", "baseline": "middle", "radiusOffset": 25, "font": "Noto Sans Mono CJK SC, DejaVu Sans Mono", "fontSize": 52}, "encoding": {"theta": {"field": "model", "type": "nominal", "bandPosition": 0.5, "scale": {"type": "band", "domain": ["M1", "M2", "M3", "M4"], "range": [4.363323, 6.108652], "paddingInner": 0.29, "paddingOuter": 0.22}}, "text": {"field": "value", "type": "nominal"}}},
            {"transform": [{"filter": "datum.kind == 'tick'"}], "mark": {"type": "text", "align": "left", "baseline": "middle", "angle": 70, "dx": 0, "font": "Liberation Serif", "fontStyle": "italic", "fontSize": 50}, "encoding": {"theta": {"field": "metric", "type": "nominal", "bandPosition": 0, "scale": {"type": "band", "domain": ["MAE", "RMSE", "MAPE"], "range": [0, 6.283185], "paddingInner": 0.166667, "paddingOuter": 0.083333}}, "text": {"field": "label", "type": "nominal"}}},
            {"transform": [{"filter": "datum.kind == 'tick' && datum.value == 0.045"}], "mark": {"type": "text", "align": "center", "baseline": "middle", "angle": -60, "radiusOffset": 89, "font": "Liberation Serif", "fontSize": 78}, "encoding": {"theta": {"field": "metric", "type": "nominal", "bandPosition": 0.5, "scale": {"type": "band", "domain": ["MAE", "RMSE", "MAPE"], "range": [0, 6.283185], "paddingInner": 0.166667, "paddingOuter": 0.083333}}, "text": {"field": "metric", "type": "nominal"}}}
          ]
        }
      ]
    },
    {
      "width": 1650, "height": 1604,
      "data": {"name": "d"},
      "title": {"text": "(d) CS38", "orient": "bottom", "frame": "group", "anchor": "middle", "offset": 147, "dx": 11, "baseline": "alphabetic", "font": "Liberation Serif", "fontSize": 82, "fontWeight": "normal", "color": "black"},
      "resolve": {"scale": {"theta": "independent", "radius": "independent"}},
      "layer": [
        {
          "transform": [{"filter": "datum.metric == 'MAE'"}],
          "encoding": {"radius": {"field": "value", "type": "quantitative", "stack": null, "scale": {"type": "linear", "domain": [0, 0.03], "range": [231, 694], "nice": false, "zero": false}}},
          "resolve": {"scale": {"theta": "independent"}},
          "layer": [
            {"transform": [{"filter": "datum.kind == 'tick' && datum.value > 0"}], "mark": {"type": "arc", "filled": false, "stroke": "#a8a8a8", "strokeWidth": 3}, "encoding": {"theta": {"field": "metric", "type": "nominal", "scale": {"type": "band", "domain": ["MAE", "RMSE", "MAPE"], "range": [0, 6.283185], "paddingInner": 0.166667, "paddingOuter": 0.083333}}, "radius2": {"field": "value"}}},
            {"transform": [{"filter": "datum.kind == 'tick' && datum.value == 0.03"}], "mark": {"type": "arc", "filled": false, "stroke": "black", "strokeWidth": 3.5}, "encoding": {"theta": {"field": "metric", "type": "nominal", "scale": {"type": "band", "domain": ["MAE", "RMSE", "MAPE"], "range": [0, 6.283185], "paddingInner": 0.166667, "paddingOuter": 0.083333}}, "radius2": {"datum": 0}}},
            {"transform": [{"filter": "datum.kind == 'bar'"}], "mark": {"type": "arc", "stroke": "#777777", "strokeWidth": 3.5}, "encoding": {"theta": {"field": "model", "type": "nominal", "scale": {"type": "band", "domain": ["M1", "M2", "M3", "M4"], "range": [0.174533, 1.919862], "paddingInner": 0.29, "paddingOuter": 0.22}}, "color": {"field": "model", "type": "nominal", "scale": {"domain": ["M1", "M2", "M3", "M4"], "range": ["#e5f2e2", "#a1dfb6", "#40c4bc", "#5eb5dc"]}, "legend": {"title": null, "orient": "none", "legendX": 238, "legendY": 1596, "direction": "horizontal", "columns": 4, "symbolType": "M-1,-0.29H1V0.29H-1Z", "symbolSize": 29584, "symbolStrokeColor": "#777777", "symbolStrokeWidth": 3.5, "symbolOpacity": 1, "labelFont": "Liberation Serif", "labelFontSize": 74, "labelColor": "black", "labelOffset": 22, "columnPadding": 7, "padding": 0}}}},
            {"transform": [{"filter": "datum.kind == 'bar'"}], "mark": {"type": "text", "align": "left", "baseline": "middle", "radiusOffset": 30, "font": "Noto Sans Mono CJK SC, DejaVu Sans Mono", "fontSize": 51}, "encoding": {"theta": {"field": "model", "type": "nominal", "bandPosition": 0.5, "scale": {"type": "band", "domain": ["M1", "M2", "M3", "M4"], "range": [0.174533, 1.919862], "paddingInner": 0.29, "paddingOuter": 0.22}}, "text": {"field": "value", "type": "nominal"}}},
            {"transform": [{"filter": "datum.kind == 'tick'"}], "mark": {"type": "text", "align": "right", "baseline": "middle", "angle": 10, "dx": -4, "font": "Liberation Serif", "fontStyle": "italic", "fontSize": 49}, "encoding": {"theta": {"field": "metric", "type": "nominal", "bandPosition": 0, "scale": {"type": "band", "domain": ["MAE", "RMSE", "MAPE"], "range": [0, 6.283185], "paddingInner": 0.166667, "paddingOuter": 0.083333}}, "text": {"field": "label", "type": "nominal"}}},
            {"transform": [{"filter": "datum.kind == 'tick' && datum.value == 0.03"}], "mark": {"type": "text", "align": "center", "baseline": "middle", "angle": 57, "thetaOffset": -0.059, "radiusOffset": 87, "font": "Liberation Serif", "fontSize": 77}, "encoding": {"theta": {"field": "metric", "type": "nominal", "bandPosition": 0.5, "scale": {"type": "band", "domain": ["MAE", "RMSE", "MAPE"], "range": [0, 6.283185], "paddingInner": 0.166667, "paddingOuter": 0.083333}}, "text": {"field": "metric", "type": "nominal"}}}
          ]
        },
        {
          "transform": [{"filter": "datum.metric == 'RMSE'"}],
          "encoding": {"radius": {"field": "value", "type": "quantitative", "stack": null, "scale": {"type": "linear", "domain": [0, 0.03], "range": [231, 694], "nice": false, "zero": false}}},
          "resolve": {"scale": {"theta": "independent"}},
          "layer": [
            {"transform": [{"filter": "datum.kind == 'tick' && datum.value > 0"}], "mark": {"type": "arc", "filled": false, "stroke": "#a8a8a8", "strokeWidth": 3}, "encoding": {"theta": {"field": "metric", "type": "nominal", "scale": {"type": "band", "domain": ["MAE", "RMSE", "MAPE"], "range": [0, 6.283185], "paddingInner": 0.166667, "paddingOuter": 0.083333}}, "radius2": {"field": "value"}}},
            {"transform": [{"filter": "datum.kind == 'tick' && datum.value == 0.03"}], "mark": {"type": "arc", "filled": false, "stroke": "black", "strokeWidth": 3.5}, "encoding": {"theta": {"field": "metric", "type": "nominal", "scale": {"type": "band", "domain": ["MAE", "RMSE", "MAPE"], "range": [0, 6.283185], "paddingInner": 0.166667, "paddingOuter": 0.083333}}, "radius2": {"datum": 0}}},
            {"transform": [{"filter": "datum.kind == 'bar'"}], "mark": {"type": "arc", "stroke": "#777777", "strokeWidth": 3.5}, "encoding": {"theta": {"field": "model", "type": "nominal", "scale": {"type": "band", "domain": ["M1", "M2", "M3", "M4"], "range": [2.268928, 4.014257], "paddingInner": 0.29, "paddingOuter": 0.22}}, "color": {"field": "model", "type": "nominal", "scale": {"domain": ["M1", "M2", "M3", "M4"], "range": ["#e5f2e2", "#a1dfb6", "#40c4bc", "#5eb5dc"]}}}},
            {"transform": [{"filter": "datum.kind == 'bar' && datum.model == 'M1'"}], "mark": {"type": "text", "align": "left", "baseline": "top", "radiusOffset": 25, "font": "Noto Sans Mono CJK SC, DejaVu Sans Mono", "fontSize": 51}, "encoding": {"theta": {"field": "model", "type": "nominal", "bandPosition": 0.5, "scale": {"type": "band", "domain": ["M1", "M2", "M3", "M4"], "range": [2.268928, 4.014257], "paddingInner": 0.29, "paddingOuter": 0.22}}, "text": {"field": "value", "type": "nominal"}}},
            {"transform": [{"filter": "datum.kind == 'bar' && (datum.model == 'M2' || datum.model == 'M3')"}], "mark": {"type": "text", "align": "center", "baseline": "top", "radiusOffset": 25, "font": "Noto Sans Mono CJK SC, DejaVu Sans Mono", "fontSize": 51}, "encoding": {"theta": {"field": "model", "type": "nominal", "bandPosition": 0.5, "scale": {"type": "band", "domain": ["M1", "M2", "M3", "M4"], "range": [2.268928, 4.014257], "paddingInner": 0.29, "paddingOuter": 0.22}}, "text": {"field": "value", "type": "nominal"}}},
            {"transform": [{"filter": "datum.kind == 'bar' && datum.model == 'M4'"}], "mark": {"type": "text", "align": "right", "baseline": "top", "radiusOffset": 25, "font": "Noto Sans Mono CJK SC, DejaVu Sans Mono", "fontSize": 51}, "encoding": {"theta": {"field": "model", "type": "nominal", "bandPosition": 0.5, "scale": {"type": "band", "domain": ["M1", "M2", "M3", "M4"], "range": [2.268928, 4.014257], "paddingInner": 0.29, "paddingOuter": 0.22}}, "text": {"field": "value", "type": "nominal"}}},
            {"transform": [{"filter": "datum.kind == 'tick'"}], "mark": {"type": "text", "align": "left", "baseline": "middle", "angle": -50, "dx": 12, "font": "Liberation Serif", "fontStyle": "italic", "fontSize": 49}, "encoding": {"theta": {"field": "metric", "type": "nominal", "bandPosition": 0, "scale": {"type": "band", "domain": ["MAE", "RMSE", "MAPE"], "range": [0, 6.283185], "paddingInner": 0.166667, "paddingOuter": 0.083333}}, "text": {"field": "label", "type": "nominal"}}},
            {"transform": [{"filter": "datum.kind == 'tick' && datum.value == 0.03"}], "mark": {"type": "text", "align": "center", "baseline": "middle", "angle": 0, "thetaOffset": -0.061, "radiusOffset": 60, "font": "Liberation Serif", "fontSize": 77}, "encoding": {"theta": {"field": "metric", "type": "nominal", "bandPosition": 0.5, "scale": {"type": "band", "domain": ["MAE", "RMSE", "MAPE"], "range": [0, 6.283185], "paddingInner": 0.166667, "paddingOuter": 0.083333}}, "text": {"field": "metric", "type": "nominal"}}}
          ]
        },
        {
          "transform": [{"filter": "datum.metric == 'MAPE'"}],
          "encoding": {"radius": {"field": "value", "type": "quantitative", "stack": null, "scale": {"type": "linear", "domain": [0, 0.04], "range": [231, 694], "nice": false, "zero": false}}},
          "resolve": {"scale": {"theta": "independent"}},
          "layer": [
            {"transform": [{"filter": "datum.kind == 'tick' && datum.value > 0"}], "mark": {"type": "arc", "filled": false, "stroke": "#a8a8a8", "strokeWidth": 3}, "encoding": {"theta": {"field": "metric", "type": "nominal", "scale": {"type": "band", "domain": ["MAE", "RMSE", "MAPE"], "range": [0, 6.283185], "paddingInner": 0.166667, "paddingOuter": 0.083333}}, "radius2": {"field": "value"}}},
            {"transform": [{"filter": "datum.kind == 'tick' && datum.value == 0.04"}], "mark": {"type": "arc", "filled": false, "stroke": "black", "strokeWidth": 3.5}, "encoding": {"theta": {"field": "metric", "type": "nominal", "scale": {"type": "band", "domain": ["MAE", "RMSE", "MAPE"], "range": [0, 6.283185], "paddingInner": 0.166667, "paddingOuter": 0.083333}}, "radius2": {"datum": 0}}},
            {"transform": [{"filter": "datum.kind == 'bar'"}], "mark": {"type": "arc", "stroke": "#777777", "strokeWidth": 3.5}, "encoding": {"theta": {"field": "model", "type": "nominal", "scale": {"type": "band", "domain": ["M1", "M2", "M3", "M4"], "range": [4.363323, 6.108652], "paddingInner": 0.29, "paddingOuter": 0.22}}, "color": {"field": "model", "type": "nominal", "scale": {"domain": ["M1", "M2", "M3", "M4"], "range": ["#e5f2e2", "#a1dfb6", "#40c4bc", "#5eb5dc"]}}}},
            {"transform": [{"filter": "datum.kind == 'bar'"}], "mark": {"type": "text", "align": "right", "baseline": "middle", "radiusOffset": 25, "font": "Noto Sans Mono CJK SC, DejaVu Sans Mono", "fontSize": 51}, "encoding": {"theta": {"field": "model", "type": "nominal", "bandPosition": 0.5, "scale": {"type": "band", "domain": ["M1", "M2", "M3", "M4"], "range": [4.363323, 6.108652], "paddingInner": 0.29, "paddingOuter": 0.22}}, "text": {"field": "value", "type": "nominal"}}},
            {"transform": [{"filter": "datum.kind == 'tick'"}], "mark": {"type": "text", "align": "left", "baseline": "middle", "angle": 70, "dx": 0, "font": "Liberation Serif", "fontStyle": "italic", "fontSize": 49}, "encoding": {"theta": {"field": "metric", "type": "nominal", "bandPosition": 0, "scale": {"type": "band", "domain": ["MAE", "RMSE", "MAPE"], "range": [0, 6.283185], "paddingInner": 0.166667, "paddingOuter": 0.083333}}, "text": {"field": "label", "type": "nominal"}}},
            {"transform": [{"filter": "datum.kind == 'tick' && datum.value == 0.04"}], "mark": {"type": "text", "align": "center", "baseline": "middle", "angle": -60, "radiusOffset": 90, "font": "Liberation Serif", "fontSize": 77}, "encoding": {"theta": {"field": "metric", "type": "nominal", "bandPosition": 0.5, "scale": {"type": "band", "domain": ["MAE", "RMSE", "MAPE"], "range": [0, 6.283185], "paddingInner": 0.166667, "paddingOuter": 0.083333}}, "text": {"field": "metric", "type": "nominal"}}}
          ]
        }
      ]
    }
  ]
}
